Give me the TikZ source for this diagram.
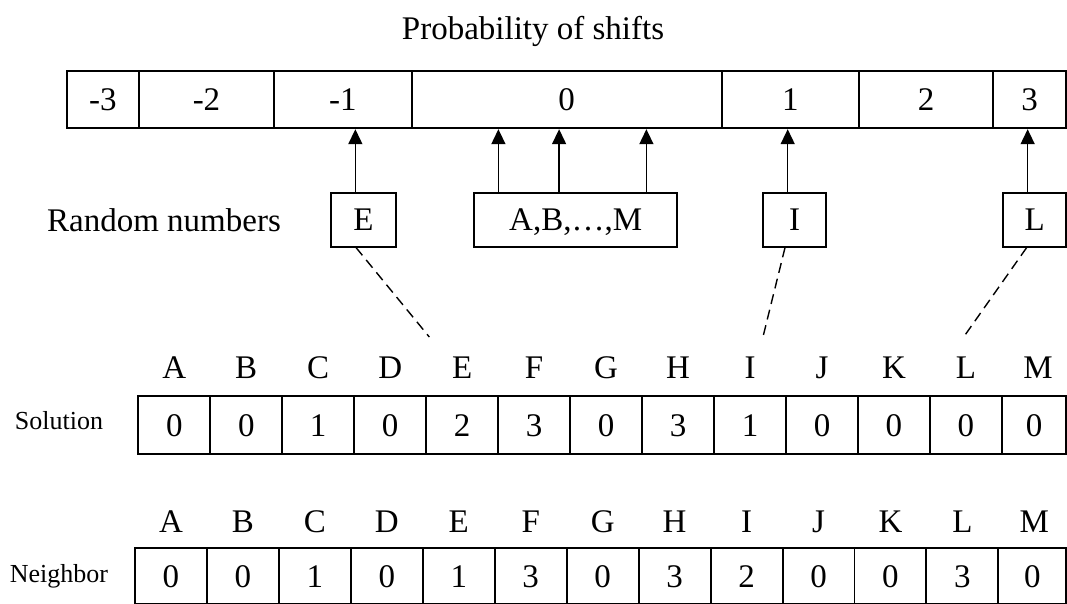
\documentclass[tikz,border=0pt]{standalone}
\usepackage{fontspec}
\setmainfont{Liberation Serif}
\usetikzlibrary{arrows.meta}
\begin{document}
\begin{tikzpicture}[x=1pt,y=-1pt,
  big/.style={font=\fontsize{33}{36}\selectfont},
  side/.style={font=\fontsize{26}{29}\selectfont},
  boxcell/.style={draw,line width=1.8pt,inner sep=0pt,big,text height=22pt,text depth=0pt},
  arr/.style={line width=1.5pt,-{Triangle[length=15pt,width=14pt]}},
  dsh/.style={line width=1.4pt,dash pattern=on 10pt off 6pt}]
\useasboundingbox (0,0) rectangle (1067,604);
% title
\node[big] (title) at (533,31) {Probability of shifts};
% top bar
\node[boxcell,minimum width=72.3pt,minimum height=57.6pt] (t1) at (102.85,99.5) {-3\hspace{8pt}};
\node[boxcell,minimum width=135pt,minimum height=57.6pt] (t2) at (206.5,99.5) {-2};
\node[boxcell,minimum width=137.7pt,minimum height=57.6pt] (t3) at (342.85,99.5) {-1};
\node[boxcell,minimum width=310pt,minimum height=57.6pt] (t4) at (566.7,99.5) {0};
\node[boxcell,minimum width=137.3pt,minimum height=57.6pt] (t5) at (790.35,99.5) {1};
\node[boxcell,minimum width=134.3pt,minimum height=57.6pt] (t6) at (926.15,99.5) {2};
\node[boxcell,minimum width=72.7pt,minimum height=57.6pt] (t7) at (1029.65,99.5) {3\hspace{16pt}};
% random numbers
\node[big] (rn) at (164,220) {Random numbers};
\node[boxcell,minimum width=65.3pt,minimum height=54pt] (E) at (363.35,219.7) {E};
\node[boxcell,minimum width=203.3pt,minimum height=54pt] (ABM) at (575.65,219.7) {A,B,…,M\hspace{35pt}};
\node[boxcell,minimum width=62.4pt,minimum height=54pt] (I) at (794.5,219.7) {I};
\node[boxcell,minimum width=62.7pt,minimum height=54pt] (L) at (1034.65,219.7) {L};
% arrows
\draw[arr] ([xshift=-8pt]E.north) -- ([xshift=-8pt]E.north |- t3.south);
\draw[arr] ([xshift=25.3pt]ABM.north west) -- ([xshift=25.3pt]ABM.north west |- t4.south);
\draw[arr] ([xshift=86pt]ABM.north west) -- ([xshift=86pt]ABM.north west |- t4.south);
\draw[arr] ([xshift=173.3pt]ABM.north west) -- ([xshift=173.3pt]ABM.north west |- t4.south);
\draw[arr] ([xshift=-6.8pt]I.north) -- ([xshift=-6.8pt]I.north |- t5.south);
\draw[arr] ([xshift=-7pt]L.north) -- ([xshift=-7pt]L.north |- t7.south);
% dashed
\coordinate (dE) at (429.3,337);
\coordinate (dI) at (762.7,338);
\coordinate (dL) at (963.3,337.5);
\draw[dsh] ([xshift=-7.3pt]E.south) -- (dE);
\draw[dsh] ([xshift=-9.5pt]I.south) -- (dI);
\draw[dsh] ([xshift=-8pt]L.south) -- (dL);
% solution row
\node[side] (sol) at (59,421) {Solution};
\foreach \v [count=\i] in {0,0,1,0,2,3,0,3,1,0,0,0} {
  \node[boxcell,minimum width=71.8pt,minimum height=58pt] (s\i) at ({138.3+71.97*(\i-1)+35.98},425) {\v};
}
\node[boxcell,minimum width=63.7pt,minimum height=58pt] (s13) at (1034.15,425) {0};
\foreach \l [count=\i] in {A,B,C,D,E,F,G,H,I,J,K,L,M} {
  \node[big] (sl\i) at ({138.3+71.97*(\i-1)+35.98},368) {\l};
}
% neighbor row
\node[side] (nei) at (59,576) {Neighbor};
\foreach \v [count=\i] in {0,0,1,0,1,3,0,3,2,0,0,3} {
  \node[boxcell,minimum width=71.8pt,minimum height=56pt] (n\i) at ({135+71.95*(\i-1)+35.97},576.3) {\v};
}
\node[boxcell,minimum width=67.5pt,minimum height=56pt] (n13) at (1032.25,576.3) {0};
\foreach \l [count=\i] in {A,B,C,D,E,F,G,H,I,J,K,L,M} {
  \node[big] (nl\i) at ({135+71.95*(\i-1)+35.97},521.7) {\l};
}
\end{tikzpicture}
\end{document}
